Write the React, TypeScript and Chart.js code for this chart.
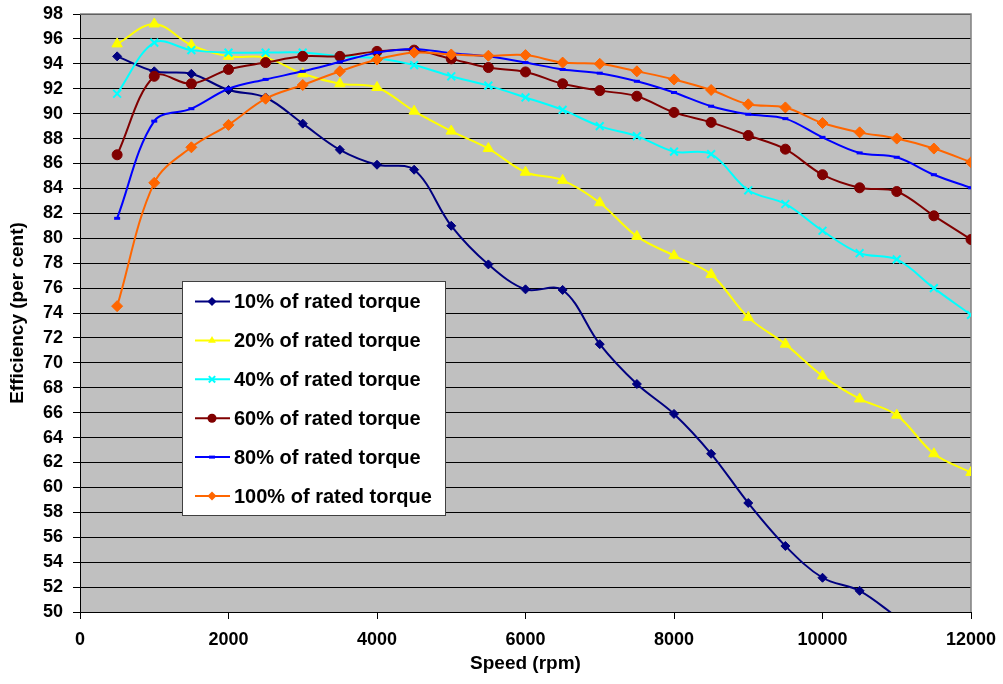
import React, { useEffect, useRef } from 'react';
import { Chart, registerables } from 'chart.js';

Chart.register(...registerables);

const speeds = [500, 1000, 1500, 2000, 2500, 3000, 3500, 4000, 4500, 5000, 5500, 6000, 6500, 7000, 7500, 8000, 8500, 9000, 9500, 10000, 10500, 11000, 11500, 12000];

const torque10 = [94.6, 93.4, 93.2, 91.9, 91.3, 89.2, 87.1, 85.9, 85.5, 81.0, 77.9, 75.9, 75.85, 71.5, 68.3, 65.9, 62.7, 58.75, 55.3, 52.75, 51.7, 49.6];
const torque20 = [95.6, 97.2, 95.5, 94.6, 94.5, 93.2, 92.4, 92.1, 90.2, 88.6, 87.2, 85.3, 84.65, 82.85, 80.15, 78.6, 77.1, 73.65, 71.5, 68.95, 67.1, 65.8, 62.7, 61.2];
const torque40 = [91.6, 95.7, 95.1, 94.9, 94.9, 94.9, 94.6, 94.45, 93.9, 93.0, 92.25, 91.3, 90.3, 89.0, 88.2, 86.95, 86.75, 83.85, 82.75, 80.6, 78.8, 78.3, 76.0, 73.85];
const torque60 = [86.7, 93.0, 92.4, 93.55, 94.1, 94.6, 94.6, 95.0, 95.1, 94.4, 93.7, 93.35, 92.4, 91.85, 91.4, 90.1, 89.3, 88.25, 87.15, 85.1, 84.05, 83.75, 81.8, 79.9];
const torque80 = [81.6, 89.4, 90.4, 92.0, 92.75, 93.4, 94.15, 94.9, 95.2, 94.85, 94.6, 94.1, 93.55, 93.25, 92.6, 91.7, 90.6, 89.95, 89.6, 88.1, 86.85, 86.5, 85.1, 84.05];
const torque100 = [74.55, 84.45, 87.3, 89.1, 91.2, 92.3, 93.4, 94.35, 94.9, 94.75, 94.65, 94.7, 94.1, 94.0, 93.4, 92.75, 91.9, 90.75, 90.5, 89.25, 88.5, 88.0, 87.2, 86.1];

const seriesLabels = [
  '10% of rated torque',
  '20% of rated torque',
  '40% of rated torque',
  '60% of rated torque',
  '80% of rated torque',
  '100% of rated torque',
];
const seriesColors = ['#000080', '#FFFF00', '#00FFFF', '#800000', '#0000FF', '#FF6600'];
const seriesStyles = ['rectRot', 'triangle', 'crossRot', 'circle', 'line', 'rectRot'];
const seriesRadius = [4.5, 6, 5.5, 5, 3, 5.5];
const seriesValues = [torque10, torque20, torque40, torque60, torque80, torque100];

const xTicksMax = 12000;
const yMin = 50;
const yMax = 98;

const FONT = "'Liberation Sans', Arial, sans-serif";

function drawMarker(ctx: CanvasRenderingContext2D, style: string, x: number, y: number, r: number, color: string) {
  ctx.save();
  ctx.fillStyle = color;
  ctx.strokeStyle = color;
  ctx.beginPath();
  if (style === 'rectRot') {
    ctx.moveTo(x, y - r);
    ctx.lineTo(x + r, y);
    ctx.lineTo(x, y + r);
    ctx.lineTo(x - r, y);
    ctx.closePath();
    ctx.fill();
  } else if (style === 'triangle') {
    ctx.moveTo(x, y - r);
    ctx.lineTo(x + r * Math.sin((2 * Math.PI) / 3), y + r / 2);
    ctx.lineTo(x - r * Math.sin((2 * Math.PI) / 3), y + r / 2);
    ctx.closePath();
    ctx.fill();
  } else if (style === 'crossRot') {
    const d = r * Math.SQRT1_2;
    ctx.lineWidth = 2;
    ctx.moveTo(x - d, y - d);
    ctx.lineTo(x + d, y + d);
    ctx.moveTo(x + d, y - d);
    ctx.lineTo(x - d, y + d);
    ctx.stroke();
  } else if (style === 'circle') {
    ctx.arc(x, y, r, 0, Math.PI * 2);
    ctx.fill();
  } else if (style === 'line') {
    ctx.lineWidth = 3;
    ctx.moveTo(x - r, y);
    ctx.lineTo(x + r, y);
    ctx.stroke();
  }
  ctx.restore();
}

const plotBackground = {
  id: 'plotBackground',
  beforeDraw(chart: any) {
    const { ctx, chartArea } = chart;
    ctx.save();
    ctx.fillStyle = '#C0C0C0';
    ctx.fillRect(chartArea.left, chartArea.top, chartArea.right - chartArea.left, chartArea.bottom - chartArea.top);
    ctx.restore();
  },
  beforeDatasetsDraw(chart: any) {
    const { ctx, chartArea } = chart;
    ctx.save();
    ctx.strokeStyle = '#808080';
    ctx.lineWidth = 1.5;
    ctx.beginPath();
    ctx.moveTo(chartArea.left, chartArea.top);
    ctx.lineTo(chartArea.right, chartArea.top);
    ctx.lineTo(chartArea.right, chartArea.bottom);
    ctx.stroke();
    ctx.restore();
  },
};

const boxLegend = {
  id: 'boxLegend',
  afterDraw(chart: any) {
    const { ctx, chartArea } = chart;
    const left = chartArea.left + 102;
    const top = chartArea.top + 267;
    const width = 263;
    const height = 234;
    ctx.save();
    ctx.fillStyle = '#FFFFFF';
    ctx.fillRect(left, top, width, height);
    ctx.strokeStyle = '#404040';
    ctx.lineWidth = 1;
    ctx.strokeRect(left + 0.5, top + 0.5, width, height);
    ctx.font = `bold 20px ${FONT}`;
    ctx.textBaseline = 'middle';
    ctx.textAlign = 'left';
    seriesLabels.forEach((label, i) => {
      const cy = top + 20.5 + i * 38.9;
      const color = seriesColors[i];
      ctx.strokeStyle = color;
      ctx.lineWidth = 2;
      ctx.beginPath();
      ctx.moveTo(left + 13, cy);
      ctx.lineTo(left + 48, cy);
      ctx.stroke();
      drawMarker(ctx, seriesStyles[i], left + 30, cy, Math.min(seriesRadius[i], 4.5), color);
      ctx.fillStyle = '#000000';
      ctx.fillText(label, left + 52, cy + 1);
    });
    ctx.restore();
  },
};

export default function App() {
  const canvasRef = useRef<HTMLCanvasElement | null>(null);

  useEffect(() => {
    if (!canvasRef.current) return;
    const datasets = seriesValues.map((vals, i) => ({
      label: seriesLabels[i],
      data: vals.map((v, j) => ({ x: speeds[j], y: v })),
      borderColor: seriesColors[i],
      backgroundColor: seriesColors[i],
      pointBackgroundColor: seriesColors[i],
      pointBorderColor: seriesColors[i],
      pointStyle: seriesStyles[i] as any,
      pointRadius: seriesRadius[i],
      pointBorderWidth: seriesStyles[i] === 'line' ? 3 : seriesStyles[i] === 'crossRot' ? 2 : 1,
      borderWidth: 2,
      tension: 0.35,
      fill: false,
      clip: 0,
      order: seriesValues.length - i,
    }));

    const chart = new Chart(canvasRef.current, {
      type: 'line',
      data: { datasets },
      plugins: [plotBackground, boxLegend],
      options: {
        animation: false,
        responsive: false,
        maintainAspectRatio: false,
        layout: { padding: { top: 14, right: 32, left: 0, bottom: 0 } },
        plugins: {
          legend: { display: false },
          tooltip: { enabled: false },
        },
        scales: {
          x: {
            type: 'linear',
            min: 0,
            max: xTicksMax,
            ticks: {
              stepSize: 2000,
              autoSkip: false,
              maxRotation: 0,
              color: '#000',
              padding: 10,
              font: { family: FONT, size: 18, weight: 'bold' },
              callback: (v: any) => String(v),
            },
            grid: { drawOnChartArea: false, drawTicks: true, tickLength: 7, color: '#000' },
            border: { color: '#000', width: 1 },
            title: {
              display: true,
              text: 'Speed (rpm)',
              color: '#000',
              font: { family: FONT, size: 19, weight: 'bold' },
              padding: { top: 0, bottom: 9 },
            },
            afterFit: (s: any) => {
              s.height = 72;
              s.paddingLeft = 0;
              s.paddingRight = 0;
            },
          },
          y: {
            min: yMin,
            max: yMax,
            ticks: {
              stepSize: 2,
              autoSkip: false,
              color: '#000',
              padding: 10,
              font: { family: FONT, size: 18, weight: 'bold' },
              callback: (v: any) => String(v),
            },
            grid: { color: '#000', tickLength: 7, lineWidth: 1 },
            border: { color: '#000', width: 1 },
            title: {
              display: true,
              text: 'Efficiency (per cent)',
              color: '#000',
              font: { family: FONT, size: 19, weight: 'bold' },
              padding: { top: 6, bottom: 0 },
            },
            afterFit: (s: any) => {
              s.width = 80;
              s.paddingTop = 0;
              s.paddingBottom = 0;
            },
          },
        },
      } as any,
    });
    return () => chart.destroy();
  }, []);

  return (
    <div style={{ position: 'fixed', left: 0, top: 0, width: 1003, height: 684, background: '#fff' }}>
      <canvas ref={canvasRef} width={1003} height={684} />
    </div>
  );
}
